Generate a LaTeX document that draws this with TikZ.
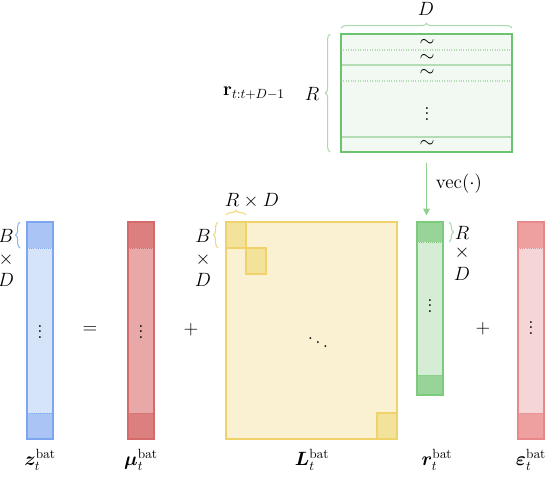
\documentclass[tikz,border=0pt]{standalone}
\usepackage{amsmath,bm}
\usetikzlibrary{decorations.pathreplacing,arrows.meta}
\definecolor{zline}{HTML}{7EA6F0}\definecolor{zblk}{HTML}{A9C4F5}\definecolor{zfill}{HTML}{D6E4FA}
\definecolor{mline}{HTML}{D46A6A}\definecolor{mblk}{HTML}{DC7F7F}\definecolor{mfill}{HTML}{E8A8A8}
\definecolor{Lline}{HTML}{EFD26A}\definecolor{Lblk}{HTML}{F3E39A}\definecolor{Lfill}{HTML}{FAF1D2}
\definecolor{rline}{HTML}{7CCB7C}\definecolor{rblk}{HTML}{98D498}\definecolor{rfill}{HTML}{D5EDD5}
\definecolor{eline}{HTML}{E88888}\definecolor{eblk}{HTML}{EEA0A0}\definecolor{efill}{HTML}{F5D5D5}
\definecolor{Mline}{HTML}{6DC26D}\definecolor{Mfill}{HTML}{F2F8F2}\definecolor{Mrow}{HTML}{B5DDB5}
\definecolor{brg}{HTML}{A8DBA8}\definecolor{brb}{HTML}{8DB4F0}\definecolor{bry}{HTML}{F0D87A}
\definecolor{arrg}{HTML}{8FD08F}
\tikzset{
  col/.style 2 args={minimum width=#1*0.75pt, minimum height=#2*0.75pt, inner sep=0pt, outer sep=0pt, anchor=north west},
  blk/.style={densely dotted, line width=0.6pt},
  outer/.style={line width=1.5pt},
  lbl/.style={inner sep=0pt},
  br/.style={decorate, decoration={brace, amplitude=3.5pt}, line width=0.8pt},
}
\begin{document}
\begin{tikzpicture}[x=0.75pt,y=-0.75pt,font=\fontsize{14.5}{17}\selectfont]
\useasboundingbox (0,0) rectangle (550,476);
% top matrix
\node[col={171}{118}, fill=Mfill] (M) at (341,34) {};
\draw[Mrow, densely dotted, line width=0.8pt] (M.west |- 0,50) -- (M.east |- 0,50);
\draw[Mrow, line width=0.8pt] (M.west |- 0,65) -- (M.east |- 0,65);
\draw[Mrow, densely dotted, line width=0.8pt] (M.west |- 0,81) -- (M.east |- 0,81);
\draw[Mrow, line width=0.8pt] (M.west |- 0,137) -- (M.east |- 0,137);
\draw[Mline, outer] (M.north west) rectangle (M.south east);
\node[lbl] (t1) at (427,43) {$\sim$};
\node[lbl] (t2) at (427,58) {$\sim$};
\node[lbl] (t3) at (427,73) {$\sim$};
\node[lbl] (t4) at (427,110) {$\vdots$};
\node[lbl] (t5) at (427,144) {$\sim$};
\draw[brg, br] (341,28) -- (512,28);
\node[lbl] (Dtop) at (426,9) {$D$};
\draw[brg, br] (330,152) -- (330,34);
\node[lbl] (Rtop) at (312,94) {$R$};
\node[lbl] (rlab) at (254,93) {$\mathbf{r}_{t:t+D-1}$};

% z column
\node[col={26}{217}, fill=zfill] (z) at (27,222) {};
\node[col={26}{26}, fill=zblk, draw=zline, blk] (z1) at (27,222) {};
\node[col={26}{26}, fill=zblk, draw=zline, blk] (z2) at (27,413) {};
\draw[zline, outer] (z.north west) rectangle (z.south east);
\node[lbl] (zd) at (40,328) {$\vdots$};
\draw[brb, br] (20,248) -- (20,222);
\node[lbl] (zB) at (6,236) {$B$};
\node[lbl] (zx) at (6,260) {$\times$};
\node[lbl] (zD) at (6,280) {$D$};

\node[lbl] (eq) at (90,330) {$=$};

% mu column
\node[col={26}{217}, fill=mfill] (mu) at (128,222) {};
\node[col={26}{26}, fill=mblk, draw=mline, blk] (mu1) at (128,222) {};
\node[col={26}{26}, fill=mblk, draw=mline, blk] (mu2) at (128,413) {};
\draw[mline, outer] (mu.north west) rectangle (mu.south east);
\node[lbl] (mud) at (141,328) {$\vdots$};

\node[lbl] (p1) at (191,330) {$+$};

% L matrix
\node[col={171}{217}, fill=Lfill] (L) at (226,222) {};
\node[col={20}{26}, fill=Lblk, draw=Lline, line width=0.8pt] (L1) at (226,222) {};
\node[col={20}{26}, fill=Lblk, draw=Lline, line width=0.8pt] (L2) at (246,248) {};
\node[col={20}{26}, fill=Lblk, draw=Lline, line width=0.8pt] (L3) at (377,413) {};
\draw[Lline, outer] (L.north west) rectangle (L.south east);
\node[lbl] (Ld) at (318,339) {$\ddots$};
\draw[bry, br] (218,248) -- (218,222);
\node[lbl] (LB) at (203,236) {$B$};
\node[lbl] (Lx) at (203,260) {$\times$};
\node[lbl] (LD) at (203,280) {$D$};
\draw[bry, br] (226,215) -- (246,215);
\node[lbl] (LRD) at (252,201) {$R\times D$};

% r column
\node[col={26}{173}, fill=rfill] (r) at (417,222) {};
\node[col={26}{20}, fill=rblk, draw=rline, blk] (r1) at (417,222) {};
\node[col={26}{20}, fill=rblk, draw=rline, blk] (r2) at (417,375) {};
\draw[rline, outer] (r.north west) rectangle (r.south east);
\node[lbl] (rd) at (430,302) {$\vdots$};
\draw[brg, br] (449,222) -- (449,242);
\node[lbl] (rR) at (462,233) {$R$};
\node[lbl] (rx) at (462,253) {$\times$};
\node[lbl] (rD) at (462,274) {$D$};

\node[lbl] (p2) at (483,329) {$+$};

% eps column
\node[col={26}{217}, fill=efill] (e) at (518,222) {};
\node[col={26}{26}, fill=eblk, draw=eline, blk] (e1) at (518,222) {};
\node[col={26}{26}, fill=eblk, draw=eline, blk] (e2) at (518,413) {};
\draw[eline, outer] (e.north west) rectangle (e.south east);
\node[lbl] (ed) at (531,324) {$\vdots$};

% arrow
\draw[arrg, line width=0.8pt, -{Triangle[length=5pt,width=5pt]}, shorten <=8pt, shorten >=5pt] (M.south) -- (M.south |- r.north);
\node[lbl] (vec) at (459,184) {$\mathrm{vec}(\cdot)$};

% bottom labels
\node[lbl] (zl) at (40,460) {$\bm{z}_t^{\mathrm{bat}}$};
\node[lbl] (mul) at (141,460) {$\bm{\mu}_t^{\mathrm{bat}}$};
\node[lbl] (Ll) at (312,460) {$\bm{L}_t^{\mathrm{bat}}$};
\node[lbl] (rl) at (437,460) {$\bm{r}_t^{\mathrm{bat}}$};
\node[lbl] (el) at (531,460) {$\bm{\varepsilon}_t^{\mathrm{bat}}$};
\end{tikzpicture}
\end{document}
